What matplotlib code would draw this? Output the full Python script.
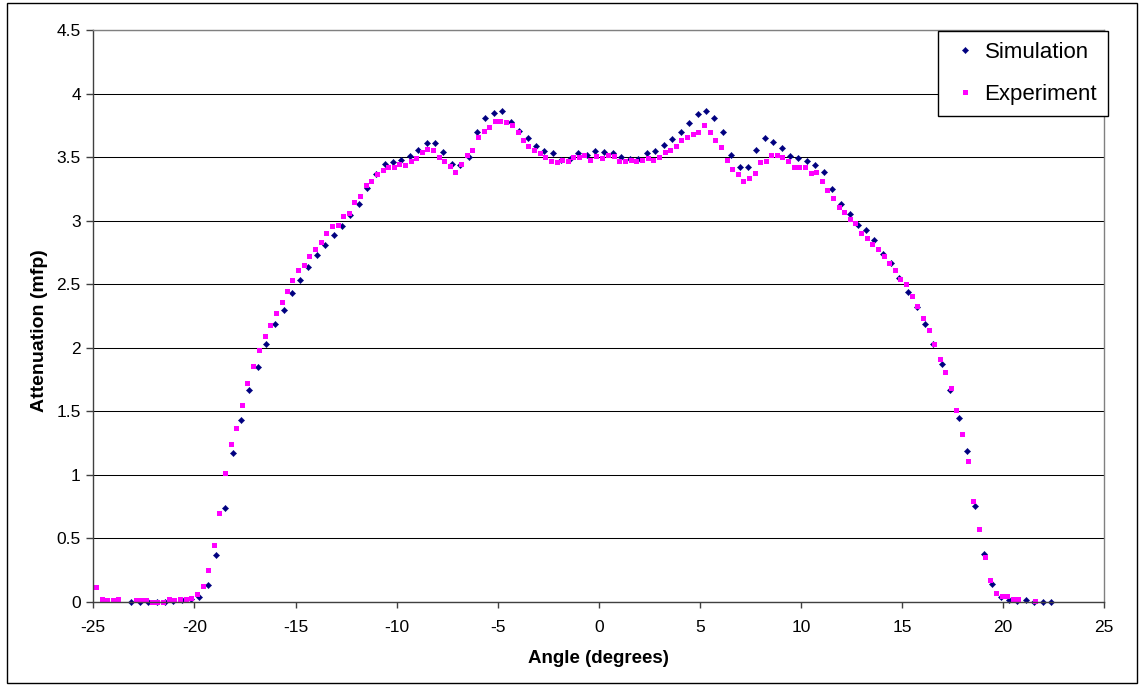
import matplotlib
matplotlib.use("Agg")
import matplotlib.pyplot as plt
from matplotlib.patches import Rectangle

# ---------------- data ----------------
sim_angle = [-23.13, -22.69, -22.28, -21.86, -21.45, -21.04, -20.61, -20.18, -19.75, -19.34,
             -18.92, -18.51, -18.10, -17.69, -17.29, -16.85, -16.44, -16.00, -15.59, -15.18,
             -14.77, -14.36, -13.94, -13.53, -13.12, -12.69, -12.28, -11.85, -11.44, -11.02,
             -10.59, -10.18, -9.77, -9.36, -8.94, -8.51, -8.10, -7.69, -7.26, -6.86,
             -6.44, -6.02, -5.61, -5.20, -4.77, -4.36, -3.94, -3.51, -3.10, -2.69,
             -2.28, -1.86, -1.43, -1.02, -0.59, -0.18, 0.25, 0.68, 1.11, 1.52,
             1.93, 2.36, 2.79, 3.22, 3.63, 4.06, 4.48, 4.89, 5.30, 5.71,
             6.12, 6.53, 6.97, 7.38, 7.79, 8.22, 8.63, 9.04, 9.46, 9.87,
             10.30, 10.71, 11.12, 11.55, 11.97, 12.40, 12.81, 13.22, 13.63, 14.04,
             14.46, 14.87, 15.30, 15.73, 16.14, 16.55, 16.97, 17.38, 17.79, 18.22,
             18.63, 19.04, 19.46, 19.87, 20.28, 20.69, 21.12, 21.53, 21.95, 22.38]
sim_atten = [0.0, 0.0, 0.0, 0.0, 0.0, 0.005, 0.01, 0.02, 0.04, 0.13,
             0.37, 0.74, 1.17, 1.43, 1.665, 1.85, 2.03, 2.19, 2.30, 2.43,
             2.53, 2.635, 2.73, 2.81, 2.89, 2.96, 3.045, 3.13, 3.26, 3.37,
             3.45, 3.465, 3.475, 3.51, 3.56, 3.61, 3.61, 3.54, 3.445, 3.44,
             3.50, 3.695, 3.81, 3.85, 3.86, 3.78, 3.705, 3.65, 3.59, 3.55,
             3.53, 3.475, 3.485, 3.53, 3.52, 3.55, 3.54, 3.53, 3.50, 3.485,
             3.485, 3.53, 3.55, 3.60, 3.645, 3.70, 3.77, 3.84, 3.86, 3.81,
             3.70, 3.52, 3.42, 3.42, 3.555, 3.65, 3.62, 3.57, 3.51, 3.49,
             3.47, 3.44, 3.38, 3.25, 3.13, 3.055, 2.97, 2.93, 2.85, 2.74,
             2.665, 2.55, 2.435, 2.32, 2.19, 2.03, 1.87, 1.67, 1.45, 1.19,
             0.75, 0.375, 0.137, 0.04, 0.013, 0.008, 0.01, 0.0, 0.0, 0.0]

exp_angle = [-24.87, -24.58, -24.31, -24.04, -23.76, -22.90, -22.65, -22.39, -22.11, -21.83,
             -21.55, -21.25, -20.99, -20.71, -20.43, -20.15, -19.87, -19.58, -19.32, -19.04,
             -18.76, -18.48, -18.20, -17.94, -17.65, -17.38, -17.09, -16.81, -16.53, -16.25,
             -15.97, -15.69, -15.43, -15.15, -14.87, -14.58, -14.32, -14.04, -13.76, -13.48,
             -13.20, -12.92, -12.64, -12.36, -12.09, -11.81, -11.53, -11.25, -10.97, -10.69,
             -10.43, -10.15, -9.87, -9.58, -9.31, -9.02, -8.74, -8.48, -8.20, -7.92,
             -7.64, -7.36, -7.09, -6.81, -6.53, -6.25, -5.97, -5.69, -5.41, -5.15,
             -4.87, -4.58, -4.31, -4.02, -3.74, -3.48, -3.20, -2.92, -2.65, -2.38,
             -2.09, -1.81, -1.53, -1.27, -0.99, -0.71, -0.43, -0.15, 0.16, 0.47,
             0.74, 1.02, 1.29, 1.57, 1.85, 2.13, 2.41, 2.69, 2.97, 3.25,
             3.53, 3.81, 4.08, 4.36, 4.64, 4.92, 5.20, 5.48, 5.76, 6.04,
             6.32, 6.58, 6.87, 7.15, 7.43, 7.71, 7.97, 8.25, 8.53, 8.81,
             9.08, 9.36, 9.64, 9.92, 10.20, 10.48, 10.74, 11.02, 11.31, 11.58,
             11.87, 12.15, 12.43, 12.69, 12.97, 13.25, 13.53, 13.81, 14.09, 14.36,
             14.64, 14.92, 15.20, 15.47, 15.74, 16.02, 16.31, 16.58, 16.87, 17.13,
             17.41, 17.69, 17.97, 18.25, 18.53, 18.80, 19.08, 19.36, 19.64, 19.92,
             20.20, 20.47, 20.74, 21.57]
exp_atten = [0.118, 0.02, 0.01, 0.01, 0.02, 0.01, 0.01, 0.01, 0.0, 0.0,
             0.0, 0.02, 0.01, 0.02, 0.02, 0.03, 0.06, 0.12, 0.25, 0.45,
             0.70, 1.01, 1.24, 1.37, 1.55, 1.72, 1.856, 1.98, 2.09, 2.18,
             2.27, 2.36, 2.45, 2.535, 2.61, 2.65, 2.72, 2.78, 2.83, 2.90,
             2.96, 2.97, 3.04, 3.06, 3.145, 3.195, 3.28, 3.31, 3.365, 3.40,
             3.425, 3.425, 3.45, 3.44, 3.47, 3.49, 3.54, 3.565, 3.555, 3.50,
             3.47, 3.43, 3.38, 3.45, 3.52, 3.555, 3.66, 3.71, 3.74, 3.785,
             3.785, 3.775, 3.75, 3.70, 3.635, 3.585, 3.555, 3.53, 3.50, 3.47,
             3.46, 3.48, 3.47, 3.50, 3.50, 3.52, 3.48, 3.51, 3.49, 3.52,
             3.51, 3.47, 3.47, 3.48, 3.47, 3.48, 3.49, 3.48, 3.50, 3.54,
             3.56, 3.585, 3.635, 3.66, 3.68, 3.70, 3.75, 3.70, 3.635, 3.58,
             3.48, 3.41, 3.365, 3.31, 3.34, 3.375, 3.46, 3.47, 3.52, 3.52,
             3.50, 3.47, 3.42, 3.42, 3.42, 3.375, 3.385, 3.31, 3.24, 3.175,
             3.11, 3.07, 3.01, 2.98, 2.90, 2.86, 2.82, 2.78, 2.725, 2.67,
             2.61, 2.54, 2.50, 2.41, 2.33, 2.23, 2.14, 2.03, 1.91, 1.81,
             1.68, 1.51, 1.32, 1.11, 0.79, 0.57, 0.35, 0.17, 0.066, 0.045,
             0.045, 0.024, 0.024, 0.003]

x_ticks = [-25, -20, -15, -10, -5, 0, 5, 10, 15, 20, 25]
y_ticks = [0, 0.5, 1, 1.5, 2, 2.5, 3, 3.5, 4, 4.5]
y_tick_labels = ["0", "0.5", "1", "1.5", "2", "2.5", "3", "3.5", "4", "4.5"]

# ---------------- figure ----------------
plt.rcParams['font.family'] = ['Liberation Sans', 'DejaVu Sans']

W, H = 1141, 685
fig = plt.figure(figsize=(W / 100, H / 100), dpi=100)
fig.patch.set_facecolor('white')

# outer chart border
fig.add_artist(Rectangle((7 / W, 1 - 683 / H), (1137 - 7) / W, (683 - 3) / H,
                         transform=fig.transFigure, fill=False, edgecolor='black',
                         linewidth=1.0))

left, right = 93.3 / W, 1104.3 / W
bottom, top = 1 - 601.7 / H, 1 - 30.2 / H
ax = fig.add_axes([left, bottom, right - left, top - bottom])

ax.set_xlim(-25, 25)
ax.set_ylim(0, 4.5)
ax.set_xticks(x_ticks)
ax.set_xticklabels([str(t) for t in x_ticks])
ax.set_yticks(y_ticks)
ax.set_yticklabels(y_tick_labels)

ax.yaxis.grid(True, color='black', linewidth=0.75)
ax.set_axisbelow(True)

for s in ['left', 'bottom']:
    ax.spines[s].set_color('#404040')
    ax.spines[s].set_linewidth(1.0)
for s in ['right', 'top']:
    ax.spines[s].set_color('#808080')
    ax.spines[s].set_linewidth(1.0)

ax.tick_params(axis='x', direction='out', length=4, width=1, color='#404040',
               labelsize=12.5, pad=9)
ax.tick_params(axis='y', direction='out', length=5, width=1, color='#404040',
               labelsize=12.5, pad=4)

ax.plot(sim_angle, sim_atten, linestyle='none', marker='D', markersize=3.2,
        color='#000080', markeredgewidth=0.3, label='Simulation', clip_on=False)
ax.plot(exp_angle, exp_atten, linestyle='none', marker='s', markersize=3.6,
        color='#FF00FF', markeredgewidth=0.0, label='Experiment', clip_on=False)

ax.set_xlabel('Angle (degrees)', fontsize=13.5, fontweight='bold')
ax.set_ylabel('Attenuation (mfp)', fontsize=14, fontweight='bold')
ax.xaxis.set_label_coords(0.5, -0.085)
ax.yaxis.set_label_coords(-0.0445, 0.474)

leg = ax.legend(loc='upper right', bbox_to_anchor=(1108.3 / W, 1 - 31 / H),
                bbox_transform=fig.transFigure, borderaxespad=0,
                fontsize=16, frameon=True, fancybox=False, shadow=False,
                handlelength=1.4, handletextpad=0.2, borderpad=0.5,
                labelspacing=0.95, markerscale=1.0)
leg.get_frame().set_edgecolor('black')
leg.get_frame().set_linewidth(1.0)
leg.get_frame().set_alpha(1)

fig.savefig('out.png', dpi=100)
